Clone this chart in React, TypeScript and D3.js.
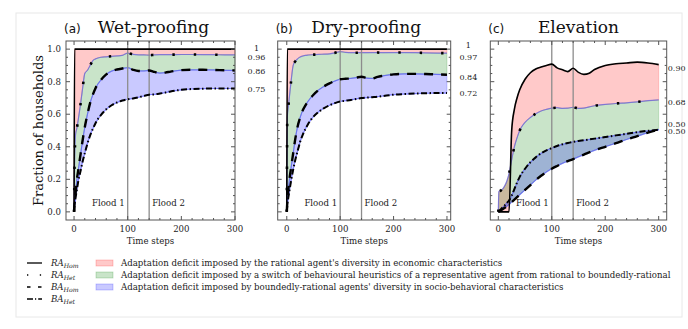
import React from "react";
import * as d3 from "d3";

const timeSteps = [0, 1, 3, 5, 8, 12, 16, 20, 25, 30, 35, 40, 50, 60, 70, 80, 90, 100, 110, 120, 130, 140, 150, 160, 170, 180, 200, 220, 240, 260, 280, 300];

const wetRAHom = [0, 1, 1, 1, 1, 1, 1, 1, 1, 1, 1, 1, 1, 1, 1, 1, 1, 1, 1, 1, 1, 1, 1, 1, 1, 1, 1, 1, 1, 1, 1, 1];
const wetRAHet = [0, 0.3, 0.48, 0.51, 0.57, 0.66, 0.76, 0.85, 0.87, 0.9, 0.93, 0.94, 0.95, 0.953, 0.956, 0.958, 0.962, 0.975, 0.968, 0.965, 0.965, 0.963, 0.965, 0.966, 0.966, 0.966, 0.967, 0.967, 0.966, 0.966, 0.965, 0.965];
const wetBAHom = [0, 0.05, 0.12, 0.19, 0.26, 0.35, 0.44, 0.52, 0.6, 0.67, 0.72, 0.76, 0.81, 0.845, 0.865, 0.875, 0.881, 0.886, 0.873, 0.866, 0.866, 0.869, 0.86, 0.853, 0.856, 0.862, 0.871, 0.873, 0.873, 0.872, 0.87, 0.869];
const wetBAHet = [0, 0.04, 0.09, 0.13, 0.19, 0.25, 0.31, 0.36, 0.42, 0.47, 0.51, 0.545, 0.595, 0.63, 0.655, 0.672, 0.684, 0.692, 0.697, 0.704, 0.712, 0.72, 0.722, 0.727, 0.733, 0.74, 0.75, 0.755, 0.757, 0.758, 0.758, 0.758];

const dryRAHom = [0, 1, 1, 1, 1, 1, 1, 1, 1, 1, 1, 1, 1, 1, 1, 1, 1, 1, 1, 1, 1, 1, 1, 1, 1, 1, 1, 1, 1, 1, 1, 1];
const dryRAHet = [0, 0.58, 0.65, 0.71, 0.8, 0.9, 0.925, 0.94, 0.952, 0.958, 0.962, 0.964, 0.966, 0.968, 0.969, 0.971, 0.977, 0.985, 0.98, 0.978, 0.978, 0.978, 0.978, 0.979, 0.979, 0.978, 0.979, 0.979, 0.978, 0.977, 0.976, 0.975];
const dryBAHom = [0, 0.06, 0.14, 0.2, 0.27, 0.36, 0.45, 0.52, 0.58, 0.625, 0.655, 0.68, 0.72, 0.75, 0.772, 0.79, 0.804, 0.815, 0.818, 0.82, 0.825, 0.83, 0.822, 0.82, 0.83, 0.836, 0.845, 0.848, 0.848, 0.847, 0.845, 0.843];
const dryBAHet = [0, 0.04, 0.09, 0.13, 0.19, 0.26, 0.32, 0.37, 0.43, 0.475, 0.51, 0.54, 0.585, 0.615, 0.638, 0.655, 0.668, 0.678, 0.683, 0.688, 0.694, 0.699, 0.702, 0.705, 0.708, 0.712, 0.72, 0.724, 0.727, 0.729, 0.73, 0.73];

const elevRAHom = [0, 0, 0, 0, 0, 0, 0, 0, 0.5, 0.63, 0.7, 0.75, 0.815, 0.855, 0.878, 0.89, 0.9, 0.908, 0.885, 0.873, 0.862, 0.883, 0.857, 0.845, 0.852, 0.875, 0.9, 0.91, 0.915, 0.92, 0.915, 0.905];
const elevRAHet = [0, 0.125, 0.128, 0.132, 0.14, 0.16, 0.19, 0.235, 0.32, 0.4, 0.455, 0.5, 0.55, 0.58, 0.603, 0.62, 0.63, 0.637, 0.64, 0.636, 0.637, 0.643, 0.636, 0.638, 0.645, 0.652, 0.66, 0.666, 0.67, 0.676, 0.683, 0.688];
const elevBAHom = [0, 0.002, 0.006, 0.01, 0.016, 0.025, 0.035, 0.045, 0.06, 0.075, 0.09, 0.105, 0.135, 0.165, 0.195, 0.222, 0.245, 0.265, 0.282, 0.298, 0.312, 0.324, 0.338, 0.352, 0.365, 0.378, 0.4, 0.422, 0.445, 0.465, 0.487, 0.505];
const elevBAHet = [0, 0.003, 0.01, 0.017, 0.027, 0.04, 0.055, 0.07, 0.1, 0.14, 0.18, 0.215, 0.265, 0.305, 0.335, 0.36, 0.378, 0.392, 0.405, 0.415, 0.423, 0.43, 0.436, 0.44, 0.445, 0.45, 0.46, 0.47, 0.48, 0.49, 0.498, 0.505];

const panelTitles = ["Wet-proofing", "Dry-proofing", "Elevation"];
const panelLetters = ["(a)", "(b)", "(c)"];
const floodSteps = [100, 140];
const floodLabels = ["Flood 1", "Flood 2"];
const xTicks = [0, 100, 200, 300];
const yTicks = [0, 0.2, 0.4, 0.6, 0.8, 1.0];
const endLabelsWet = ["1", "0.96", "0.86", "0.75"];
const endLabelsDry = ["1", "0.97", "0.84", "0.72"];
const endLabelsElev = ["0.90", "0.68", "0.50", "0.50"];
const seriesNames = ["RA", "RA", "BA", "BA"];
const seriesSubs = ["Hom", "Het", "Hom", "Het"];
const deficitLabels = [
  "Adaptation deficit imposed by the rational agent's diversity in economic characteristics",
  "Adaptation deficit imposed by a switch of behavioural heuristics of a representative agent from rational to boundedly-rational",
  "Adaptation deficit imposed by boundedly-rational agents' diversity in socio-behavioral characteristics",
];

const SERIF = "'DejaVu Serif', serif";
const SANS = "'DejaVu Sans', sans-serif";
const FILLS = ["#ff0000", "#008000", "#0000ff"];
const FILL_OP = 0.21;
const DASHES = [null, "2.4,19", "9,8", "6,2.5,1.5,2.5"];
const WIDTHS = [1.6, 2.6, 2.4, 2];

const panels = [
  { series: [wetRAHom, wetRAHet, wetBAHom, wetBAHet], xDomain: [-15, 300], range: [66, 235], labels: endLabelsWet, labelT: 340, anchor: "middle", nudge: [-1, 2, 1, 0], yLabels: true, titleShift: 3 },
  { series: [dryRAHom, dryRAHet, dryBAHom, dryBAHet], xDomain: [-17, 307], range: [277.7, 450.7], labels: endLabelsDry, labelT: 340, anchor: "middle", nudge: [-4, 4, 2, 0], yLabels: false, titleShift: 2 },
  { series: [elevRAHom, elevRAHet, elevBAHom, elevBAHet], xDomain: [-15, 315], range: [490.3, 666.7], labels: endLabelsElev, labelT: 317, anchor: "start", nudge: [3, 2, -5.5, 1.5], yLabels: false, titleShift: 0 },
];

const TOP = 41;
const BOTTOM = 220;

function Panel({ p, idx }: { p: any; idx: number }) {
  const x = d3.scaleLinear().domain(p.xDomain).range(p.range);
  const y = d3.scaleLinear().domain([-0.05, 1.05]).range([BOTTOM, TOP]);
  const [raHom, raHet, baHom, baHet] = p.series;
  const pts = timeSteps.map((t, i) => i);
  const area = (a: number[], b: number[]) =>
    d3.area<number>().x((i) => x(timeSteps[i])).y0((i) => y(a[i])).y1((i) => y(b[i])).curve(d3.curveMonotoneX)(pts) || "";
  const line = (a: number[]) =>
    d3.line<number>().x((i) => x(timeSteps[i])).y((i) => y(a[i])).curve(d3.curveMonotoneX)(pts) || "";
  const fills = [area(raHom, raHet), area(raHet, baHom), area(baHom, baHet)];
  const left = p.range[0];
  const right = p.range[1];
  const minorX = d3.range(-20, 320, 20).filter((v) => v % 100 !== 0 && v >= p.xDomain[0] && v <= p.xDomain[1]);
  const minorY = d3.range(0, 1.0001, 0.05).filter((v) => Math.round(v * 100) % 20 !== 0);
  const cx = (left + right) / 2;
  const finals = p.series.map((s: number[]) => s[s.length - 1]);
  return (
    <g>
      {fills.map((d, i) => (
        <path key={i} d={d} fill={FILLS[i]} fillOpacity={FILL_OP} stroke={FILLS[i]} strokeOpacity={0.18} strokeWidth={1} />
      ))}
      {[raHet, baHom, baHet].map((s, i) => (
        <path key={"e" + i} d={line(s)} fill="none" stroke="#5555ff" strokeOpacity={0.6} strokeWidth={1.2} />
      ))}
      {floodSteps.map((f, i) => (
        <g key={"f" + i}>
          <line x1={x(f)} x2={x(f)} y1={TOP} y2={BOTTOM} stroke="#8c8c8c" strokeWidth={1.3} />
          <text x={i === 0 ? x(f) - 3 : x(f) + 3} y={206} fontSize={8.6} fontFamily={SERIF} fill="#222" textAnchor={i === 0 ? "end" : "start"}>
            {floodLabels[i]}
          </text>
        </g>
      ))}
      {p.series.map((s: number[], i: number) => (
        <path key={"l" + i} d={line(s)} fill="none" stroke="#000" strokeWidth={WIDTHS[i]} strokeDasharray={DASHES[i] || undefined} />
      ))}
      <rect x={left} y={TOP} width={right - left} height={BOTTOM - TOP} fill="none" stroke="#555" strokeWidth={1} />
      {xTicks.map((t) => (
        <g key={"xt" + t}>
          <line x1={x(t)} x2={x(t)} y1={BOTTOM} y2={BOTTOM - 4} stroke="#555" />
          <line x1={x(t)} x2={x(t)} y1={TOP} y2={TOP + 4} stroke="#555" />
          <text x={x(t)} y={231.5} fontSize={8.6} fontFamily={SERIF} fill="#222" textAnchor="middle">{t}</text>
        </g>
      ))}
      {minorX.map((t) => (
        <g key={"xm" + t}>
          <line x1={x(t)} x2={x(t)} y1={BOTTOM} y2={BOTTOM - 2} stroke="#555" />
          <line x1={x(t)} x2={x(t)} y1={TOP} y2={TOP + 2} stroke="#555" />
        </g>
      ))}
      {yTicks.map((v) => (
        <g key={"yt" + v}>
          <line x1={left} x2={left + 4} y1={y(v)} y2={y(v)} stroke="#555" />
          <line x1={right} x2={right - 4} y1={y(v)} y2={y(v)} stroke="#555" />
          {p.yLabels && (
            <text x={61} y={y(v) + 3} fontSize={8.6} fontFamily={SERIF} fill="#222" textAnchor="end">{v.toFixed(1)}</text>
          )}
        </g>
      ))}
      {minorY.map((v) => (
        <g key={"ym" + v}>
          <line x1={left} x2={left + 2} y1={y(v)} y2={y(v)} stroke="#555" />
          <line x1={right} x2={right - 2} y1={y(v)} y2={y(v)} stroke="#555" />
        </g>
      ))}
      {p.labels.map((lab: string, i: number) => (
        <text key={"lab" + i} x={x(p.labelT)} y={y(finals[i]) + p.nudge[i] + 3} fontSize={8} fontFamily={SERIF} fill="#222" textAnchor={p.anchor}>
          {lab}
        </text>
      ))}
      <text x={cx + p.titleShift} y={33} fontSize={17} fontFamily={SERIF} fill="#111" textAnchor="middle">{panelTitles[idx]}</text>
      <text x={left - 2} y={33} fontSize={12} fontFamily={SANS} fill="#111" textAnchor="start">{panelLetters[idx]}</text>
      <text x={cx} y={244} fontSize={8.6} fontFamily={SERIF} fill="#222" textAnchor="middle">Time steps</text>
    </g>
  );
}

export default function App() {
  const legendRows = [263, 275, 287, 299];
  return (
    <svg width={688} height={329} style={{ position: "absolute", left: 0, top: 0, background: "#fff" }}>
      <rect x={16} y={13} width={666} height={304} fill="none" stroke="#e8e8e8" strokeWidth={1} />
      {panels.map((p, i) => (
        <Panel key={i} p={p} idx={i} />
      ))}
      <text transform="translate(42.5,130.5) rotate(-90)" fontSize={13} fontFamily={SERIF} fill="#111" textAnchor="middle">
        Fraction of households
      </text>
      {seriesNames.map((n, i) => (
        <g key={"lg" + i}>
          <line x1={27} x2={42} y1={legendRows[i]} y2={legendRows[i]} stroke="#000" strokeWidth={i === 1 ? 1.4 : 1.3} strokeDasharray={i === 0 ? undefined : i === 1 ? "1.3,11.5" : i === 2 ? "3.5,7.5" : "6,2,1.2,2"} />
          <text x={51} y={legendRows[i] + 3} fontSize={8.6} fontFamily={SERIF} fontStyle="italic" fill="#222">
            {n}
            <tspan fontSize={6.2} dy={1.5}>{seriesSubs[i]}</tspan>
          </text>
        </g>
      ))}
      {deficitLabels.map((lab, i) => (
        <g key={"dl" + i}>
          <rect x={96} y={legendRows[i] - 3} width={17} height={6} fill={FILLS[i]} fillOpacity={FILL_OP} stroke={FILLS[i]} strokeOpacity={0.25} strokeWidth={0.8} />
          <text x={121} y={legendRows[i] + 3} fontSize={8.6} fontFamily={SERIF} fill="#222">{lab}</text>
        </g>
      ))}
    </svg>
  );
}
